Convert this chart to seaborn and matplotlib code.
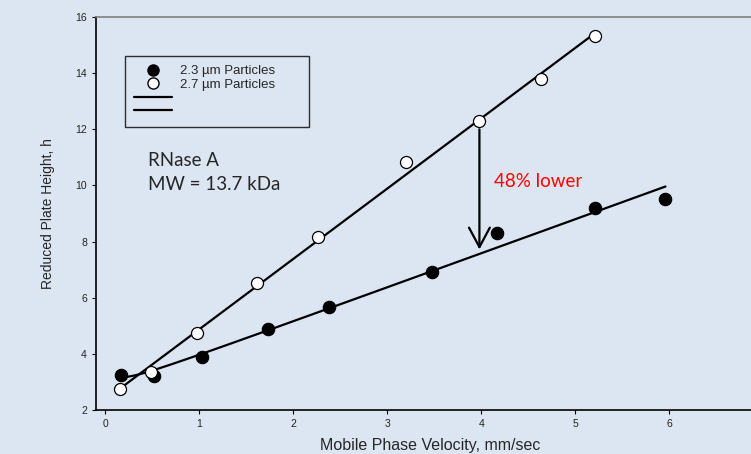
import numpy as np
import pandas as pd
import matplotlib
matplotlib.use("Agg")
import matplotlib.pyplot as plt
import seaborn as sns
from matplotlib.lines import Line2D

# --- data ---
vel_23 = [0.17, 0.52, 1.03, 1.73, 2.38, 3.48, 4.17, 5.21, 5.96]
h_23 = [3.25, 3.20, 3.90, 4.90, 5.68, 6.90, 8.29, 9.21, 9.50]

vel_27 = [0.16, 0.49, 0.98, 1.61, 2.26, 3.20, 3.98, 4.64, 5.21]
h_27 = [2.75, 3.36, 4.75, 6.54, 8.18, 10.82, 12.29, 13.79, 15.32]

x_ticks = [0, 1, 2, 3, 4, 5, 6]
y_ticks = [2, 4, 6, 8, 10, 12, 14, 16]

bg = "#dce6f2"

# --- fitted curves ---
# 2.7 um: straight line fit
p27 = np.polyfit(vel_27, h_27, 1)
xf27 = np.linspace(min(vel_27), max(vel_27), 100)
fit27 = pd.DataFrame({"v": xf27, "h": np.polyval(p27, xf27)})

# 2.3 um: van Deemter style fit h = A + B/v + C*v
v23 = np.array(vel_23)
basis = np.column_stack([np.ones_like(v23), 1 / v23, v23])
coef, *_ = np.linalg.lstsq(basis, np.array(h_23), rcond=None)
xf23 = np.linspace(min(vel_23), max(vel_23), 200)
fit23 = pd.DataFrame({"v": xf23,
                      "h": coef[0] + coef[1] / xf23 + coef[2] * xf23})

df23 = pd.DataFrame({"v": vel_23, "h": h_23})
df27 = pd.DataFrame({"v": vel_27, "h": h_27})

# --- style ---
sns.set_theme(style="ticks", rc={
    "figure.facecolor": bg,
    "axes.facecolor": bg,
    "savefig.facecolor": bg,
    "axes.edgecolor": "black",
    "xtick.color": "black",
    "ytick.color": "black",
    "xtick.labelcolor": "#222222",
    "ytick.labelcolor": "#222222",
})
plt.rcParams["font.family"] = ["Liberation Sans", "DejaVu Sans"]

fig = plt.figure(figsize=(7.51, 4.54), dpi=100)
ax = fig.add_axes([96 / 751, 44 / 454, 1 - 96 / 751, 393 / 454])

sns.lineplot(data=fit27, x="v", y="h", ax=ax, color="black", lw=1.6, zorder=2)
sns.lineplot(data=fit23, x="v", y="h", ax=ax, color="black", lw=1.6, zorder=2)
sns.scatterplot(data=df23, x="v", y="h", ax=ax, color="black", edgecolor="black",
                s=80, linewidth=0.8, zorder=3)
sns.scatterplot(data=df27, x="v", y="h", ax=ax, color="white", edgecolor="black",
                s=75, linewidth=0.9, zorder=3)

ax.set_xlim(-0.1, 6.87)
ax.set_ylim(2, 16)
ax.set_xticks(x_ticks)
ax.set_yticks(y_ticks)
ax.tick_params(axis="both", labelsize=7.5, length=3, width=0.8, direction="out")

for side in ["left", "bottom"]:
    ax.spines[side].set_linewidth(1.2)
ax.spines["top"].set_color("#7f7f7f")
ax.spines["top"].set_linewidth(1.2)
ax.spines["right"].set_visible(False)

ax.set_xlabel("Mobile Phase Velocity, mm/sec", fontsize=11.5)
ax.set_ylabel("Reduced Plate Height, h", fontsize=10)
ax.xaxis.set_label_coords(0.51, -0.072)
ax.yaxis.set_label_coords(-0.062, 0.5)

# annotations
ann_font = ["Lato", "DejaVu Sans"]
ax.text(0.45, 10.68, "RNase A", fontsize=13.5, family=ann_font, ha="left", va="baseline")
ax.text(0.45, 9.82, "MW = 13.7 kDa", fontsize=13.5, family=ann_font, ha="left", va="baseline")
ax.text(4.13, 9.93, "48% lower", fontsize=13.5, family=ann_font, color="#ff0000",
        ha="left", va="baseline")
ax.annotate("", xy=(3.98, 7.72), xytext=(3.98, 12.0),
            arrowprops=dict(arrowstyle="->,head_length=1.4,head_width=0.75",
                            color="black", lw=1.6, shrinkA=0, shrinkB=0,
                            mutation_scale=10))

# legend
handles = [
    Line2D([], [], marker="o", ls="none", color="black", markersize=8),
    Line2D([], [], marker="o", ls="none", markerfacecolor="white",
           markeredgecolor="black", markersize=8),
    Line2D([], [], color="black", lw=1.6),
    Line2D([], [], color="black", lw=1.6),
]
labels = ["2.3 \u00b5m Particles", "2.7 \u00b5m Particles", "", ""]
leg = ax.legend(handles, labels, loc="upper left",
                bbox_to_anchor=(0.0443, 0.9008, 0.281, 0.0), mode="expand",
                borderaxespad=0, fontsize=9.5, handlelength=2.9, handletextpad=0.6,
                labelspacing=0.1, borderpad=0.68, fancybox=False, frameon=True)
leg.get_frame().set_edgecolor("black")
leg.get_frame().set_facecolor("none")
leg.get_frame().set_linewidth(1.0)

fig.savefig("out.png", dpi=100)
